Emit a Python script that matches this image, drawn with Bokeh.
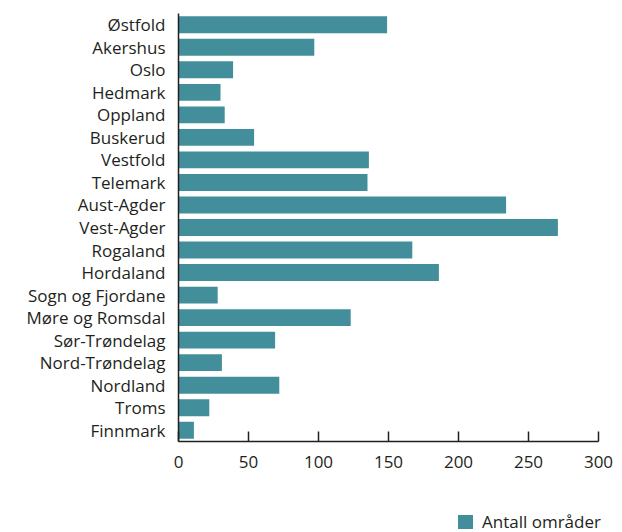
from bokeh.plotting import figure
from bokeh.layouts import column
from bokeh.models import ColumnDataSource, FactorRange, Range1d, FixedTicker, Div
from bokeh.embed import file_html
from bokeh.resources import INLINE

counties = ["Østfold", "Akershus", "Oslo", "Hedmark", "Oppland", "Buskerud", "Vestfold",
            "Telemark", "Aust-Agder", "Vest-Agder", "Rogaland", "Hordaland", "Sogn og Fjordane",
            "Møre og Romsdal", "Sør-Trøndelag", "Nord-Trøndelag", "Nordland", "Troms", "Finnmark"]
values = [149, 97, 39, 30, 33, 54, 136, 135, 234, 271, 167, 186, 28, 123, 69, 31, 72, 22, 11]
x_ticks = [0, 50, 100, 150, 200, 250, 300]
series_name = "Antall områder"

FONT = "Open Sans"
TXT = "#231f20"
BAR = "#428f9b"

src = ColumnDataSource(dict(county=counties, value=values))

p = figure(width=614, height=490, output_backend="svg", toolbar_location=None,
           y_range=FactorRange(*list(reversed(counties)), range_padding=0),
           x_range=Range1d(0, 300),
           min_border_left=178, min_border_right=16, min_border_top=13, min_border_bottom=49)

r = p.hbar(y="county", right="value", left=0, height=0.75, source=src,
           fill_color=BAR, line_color=None)

p.outline_line_color = None
p.xgrid.grid_line_color = None
p.ygrid.grid_line_color = None

p.xaxis.ticker = FixedTicker(ticks=x_ticks)
p.xaxis.major_tick_in = 10
p.xaxis.major_tick_out = 0
p.xaxis.minor_tick_line_color = None
p.xaxis.axis_line_color = TXT
p.xaxis.axis_line_width = 1.5
p.xaxis.major_tick_line_color = TXT
p.xaxis.major_tick_line_width = 1.5
p.xaxis.major_label_text_font = FONT
p.xaxis.major_label_text_font_size = "17px"
p.xaxis.major_label_text_color = TXT
p.xaxis.major_label_standoff = 14

p.yaxis.major_tick_line_color = None
p.yaxis.minor_tick_line_color = None
p.yaxis.axis_line_color = TXT
p.yaxis.axis_line_width = 1.5
p.yaxis.major_label_text_font = FONT
p.yaxis.major_label_text_font_size = "17px"
p.yaxis.major_label_text_color = TXT
p.yaxis.major_label_standoff = 7

# legend strip below the chart
legend_html = (
    f'<div style="position:relative;width:614px;height:42px;font-family:\'{FONT}\';'
    f'font-size:17px;color:{TXT};">'
    f'<span style="position:absolute;left:458px;top:25px;width:15px;height:14px;'
    f'background:{BAR};"></span>'
    f'<span style="position:absolute;left:482px;top:20px;line-height:23px;white-space:nowrap;">'
    f'{series_name}</span></div>'
)
leg = Div(text=legend_html, width=614, height=42, margin=0)

layout = column(p, leg, spacing=0)
open("out.html", "w").write(file_html(layout, INLINE))
